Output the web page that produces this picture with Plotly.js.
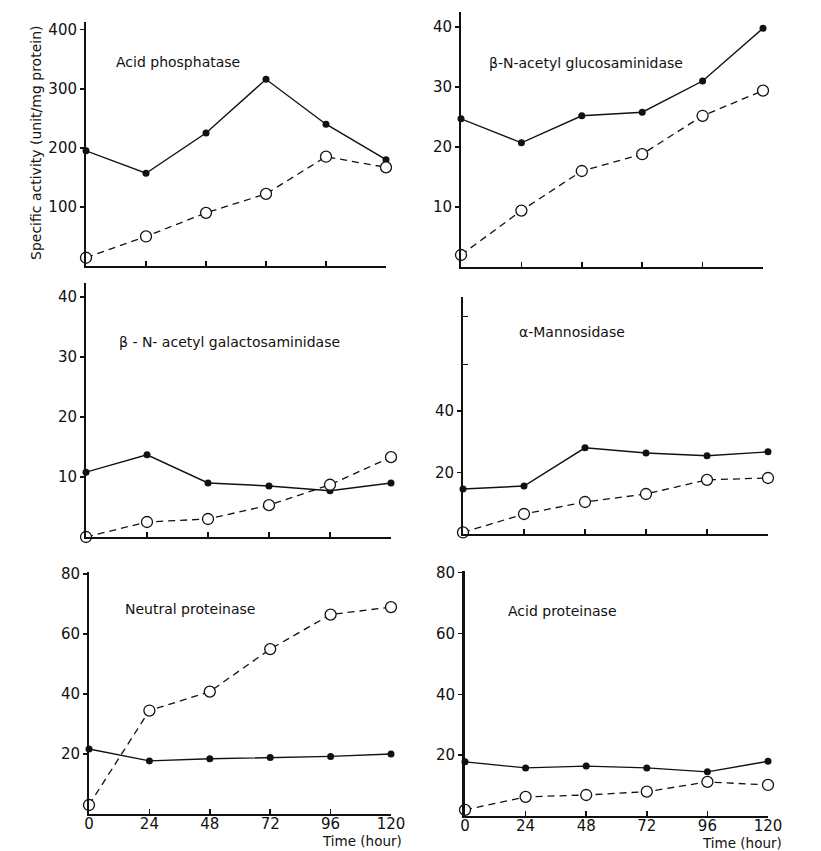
<!DOCTYPE html>
<html>
<head>
<meta charset="utf-8">
<script src="https://cdn.plot.ly/plotly-3.0.1.min.js"></script>
<style>html,body{margin:0;padding:0;background:#fff;}#chart{width:821px;height:851px;}</style>
</head>
<body>
<div id="chart"></div>
<script>
// ---- data ----
const hours = [0, 24, 48, 72, 96, 120];
const enzymeNames = [
  "Acid phosphatase",
  "β-N-acetyl glucosaminidase",
  "β - N- acetyl galactosaminidase",
  "α-Mannosidase",
  "Neutral proteinase",
  "Acid proteinase"
];
const acidPhosphataseSolid = [195, 157, 225, 316, 240, 180];
const acidPhosphataseOpen  = [14, 50, 90, 122, 185, 167];
const glucosaminidaseSolid = [24.7, 20.7, 25.2, 25.8, 31, 39.8];
const glucosaminidaseOpen  = [2, 9.4, 16, 18.8, 25.2, 29.4];
const galactosaminidaseSolid = [10.8, 13.7, 9, 8.5, 7.7, 9];
const galactosaminidaseOpen  = [0, 2.5, 3, 5.3, 8.7, 13.3];
const mannosidaseSolid = [14.6, 15.6, 28, 26.3, 25.4, 26.7];
const mannosidaseOpen  = [0.5, 6.5, 10.4, 13, 17.6, 18.2];
const neutralProteinaseSolid = [21.7, 17.7, 18.4, 18.8, 19.2, 20];
const neutralProteinaseOpen  = [3, 34.5, 40.8, 55, 66.5, 69];
const acidProteinaseSolid = [17.8, 15.8, 16.4, 15.8, 14.5, 18];
const acidProteinaseOpen  = [2, 6.3, 6.9, 8, 11.2, 10.2];
const xTickVals = [0, 24, 48, 72, 96, 120];
const xTickText = ["0", "24", "48", "72", "96", "120"];
const yTicks = [
  [100, 200, 300, 400],
  [10, 20, 30, 40],
  [10, 20, 30, 40],
  [20, 40],
  [20, 40, 60, 80],
  [20, 40, 60, 80]
];
const mannosidaseExtraTicks = [55, 70.6];
const yAxisTitle = "Specific activity (unit/mg protein)";
const xAxisTitle = "Time (hour)";

const solidSeries = [acidPhosphataseSolid, glucosaminidaseSolid, galactosaminidaseSolid, mannosidaseSolid, neutralProteinaseSolid, acidProteinaseSolid];
const openSeries  = [acidPhosphataseOpen, glucosaminidaseOpen, galactosaminidaseOpen, mannosidaseOpen, neutralProteinaseOpen, acidProteinaseOpen];

// ---- layout geometry (pixels) ----
const W = 821, H = 851;
const panels = [
  {x0: 86,  x1: 386, yb: 266, yt: 22,  ymax: 413},
  {x0: 461, x1: 763, yb: 267, yt: 12,  ymax: 42.5},
  {x0: 86,  x1: 391, yb: 537, yt: 283, ymax: 42.3},
  {x0: 463, x1: 768, yb: 534, yt: 297, ymax: 77},
  {x0: 89,  x1: 391, yb: 814, yt: 572, ymax: 80.7},
  {x0: 465, x1: 768, yb: 816, yt: 571, ymax: 80.5}
];
const titlePos = [[178, 62], [586, 63], [230, 342], [572, 332], [190, 609], [562, 611]];

const font = {family: "DejaVu Sans, Liberation Sans, Arial, sans-serif", color: "#111"};
const traces = [];
const layout = {
  width: W, height: H,
  margin: {l: 0, r: 0, t: 0, b: 0},
  paper_bgcolor: "#fff", plot_bgcolor: "rgba(0,0,0,0)",
  showlegend: false,
  font: Object.assign({size: 14}, font),
  annotations: [],
  hovermode: false
};

panels.forEach((p, i) => {
  const n = i + 1;
  const xa = "x" + (n === 1 ? "" : n), ya = "y" + (n === 1 ? "" : n);
  traces.push({
    x: hours, y: solidSeries[i], xaxis: xa, yaxis: ya, type: "scatter", mode: "lines+markers",
    cliponaxis: false,
    line: {color: "#111", width: 1.4},
    marker: {symbol: "circle", size: 7, color: "#111"}
  });
  traces.push({
    x: hours, y: openSeries[i], xaxis: xa, yaxis: ya, type: "scatter", mode: "lines+markers",
    cliponaxis: false,
    line: {color: "#111", width: 1.3, dash: "7px,5px"},
    marker: {symbol: "circle", size: 11, color: "#fff", line: {width: 1.3, color: "#111"}}
  });
  const bottom = (i >= 4);
  layout["xaxis" + (n === 1 ? "" : n)] = {
    domain: [p.x0 / W, p.x1 / W], anchor: ya, range: [0, 120],
    showline: true, linewidth: 2, linecolor: "#111", showgrid: false, zeroline: false,
    tickmode: "array", tickvals: xTickVals, ticktext: xTickText,
    ticks: "inside", ticklen: 5, tickwidth: 1.5, tickcolor: "#111",
    ticklabelstandoff: -5,
    showticklabels: bottom, tickfont: Object.assign({size: 15}, font)
  };
  layout["yaxis" + (n === 1 ? "" : n)] = {
    domain: [1 - p.yb / H, 1 - p.yt / H], anchor: xa, range: [0, p.ymax],
    showline: true, linewidth: (i === 5 ? 3 : 2), linecolor: "#111", showgrid: false, zeroline: false,
    tickmode: "array", tickvals: yTicks[i],
    ticks: "outside", ticklen: 4, tickwidth: 1.5, tickcolor: "#111",
    tickfont: Object.assign({size: 15}, font)
  };
  layout.annotations.push({
    xref: "paper", yref: "paper", x: titlePos[i][0] / W, y: 1 - titlePos[i][1] / H,
    text: enzymeNames[i], showarrow: false, xanchor: "center", yanchor: "middle",
    font: Object.assign({size: 14}, font)
  });
});

// extra unlabeled inside ticks on the α-Mannosidase axis
layout.yaxis7 = {
  domain: layout.yaxis4.domain, overlaying: "y4", anchor: "x4", range: [0, panels[3].ymax],
  showline: false, showgrid: false, zeroline: false,
  tickmode: "array", tickvals: mannosidaseExtraTicks, showticklabels: false,
  ticks: "inside", ticklen: 5, tickwidth: 1.5, tickcolor: "#111"
};
traces.push({x: [0], y: [0], xaxis: "x4", yaxis: "y7", type: "scatter", mode: "markers",
  marker: {size: 1, color: "rgba(0,0,0,0)"}, hoverinfo: "skip"});

// axis titles
layout.annotations.push({
  xref: "paper", yref: "paper", x: 36 / W, y: 1 - 143 / H, text: yAxisTitle, textangle: -90,
  showarrow: false, xanchor: "center", yanchor: "middle", font: Object.assign({size: 14}, font)
});
layout.annotations.push({
  xref: "paper", yref: "paper", x: 362 / W, y: 1 - 841 / H, text: xAxisTitle,
  showarrow: false, xanchor: "center", yanchor: "middle", font: Object.assign({size: 13.5}, font)
});
layout.annotations.push({
  xref: "paper", yref: "paper", x: 742 / W, y: 1 - 843 / H, text: xAxisTitle,
  showarrow: false, xanchor: "center", yanchor: "middle", font: Object.assign({size: 13.5}, font)
});

Plotly.newPlot("chart", traces, layout, {staticPlot: true, displayModeBar: false});
</script>
</body>
</html>
